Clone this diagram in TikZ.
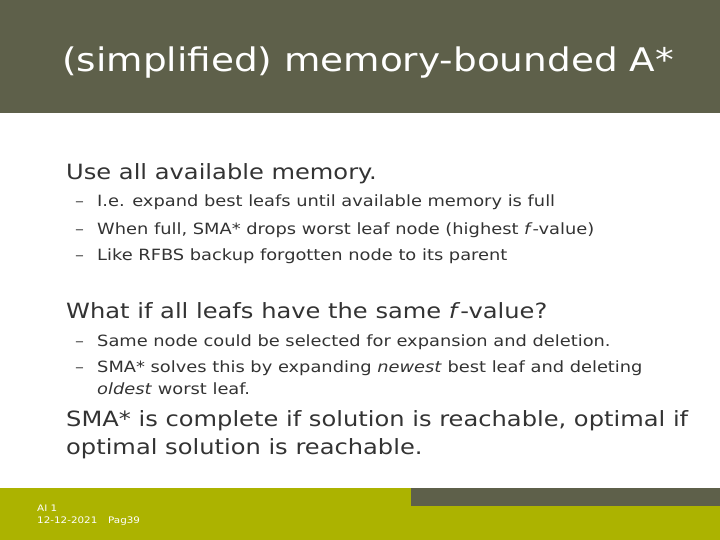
\documentclass[tikz,border=0pt]{standalone}
\usepackage{fontspec}
\setmainfont{DejaVu Sans}[FakeStretch=1.15]
\definecolor{dk}{HTML}{5E604A}
\definecolor{gr}{HTML}{ACB300}
\begin{document}
\begin{tikzpicture}[x=1pt,y=-1pt,
  lvl1/.style={anchor=base west,inner sep=0,font=\fontsize{21}{24}\selectfont,text=black!80},
  lvl2/.style={anchor=base west,inner sep=0,font=\fontsize{15.5}{18}\selectfont,text=black!80},
  dsh/.style={anchor=base west,inner sep=0,font=\fontsize{15.5}{18}\selectfont,text=black!70},
  foot/.style={anchor=base west,inner sep=0,font=\fontsize{9}{10}\selectfont,text=white}]
\useasboundingbox (0,0) rectangle (720,540);
\fill[dk] (0,0) rectangle (720,113);
\fill[gr] (0,488) rectangle (720,540);
\fill[dk] (411,488) rectangle (720,506);
\node[anchor=base west,inner sep=0,text=white,font=\fontsize{32.5}{36}\selectfont] (t) at (62,72) {(simplified) memory-bounded A*};
\node[lvl1] (a) at (66,180) {Use all available memory.};
\node[dsh] (d1) at (75,207) {–}; \node[lvl2] (b1) at (97,207) {I.e. expand best leafs until available memory is full};
\node[dsh] (d2) at (75,234) {–}; \node[lvl2] (b2) at (97,234) {When full, SMA* drops worst leaf node (highest \textit{f}-value)};
\node[dsh] (d3) at (75,260) {–}; \node[lvl2] (b3) at (97,260) {Like RFBS backup forgotten node to its parent};
\node[lvl1] (c) at (66,318) {What if all leafs have the same \textit{f}-value?};
\node[dsh] (d4) at (75,346) {–}; \node[lvl2] (e1) at (97,346) {Same node could be selected for expansion and deletion.};
\node[dsh] (d5) at (75,372) {–}; \node[lvl2] (e2) at (97,372) {SMA* solves this by expanding \textit{newest} best leaf and deleting};
\node[lvl2] (e3) at (97,394) {\textit{oldest} worst leaf.};
\node[lvl1] (f1) at (66,426) {SMA* is complete if solution is reachable, optimal if};
\node[lvl1] (f2) at (66,454) {optimal solution is reachable.};
\node[foot] (g1) at (37,511) {AI 1};
\node[foot] (g2) at (37,523) {12-12-2021};
\node[foot] (g3) at (108,523) {Pag39};
\end{tikzpicture}
\end{document}
